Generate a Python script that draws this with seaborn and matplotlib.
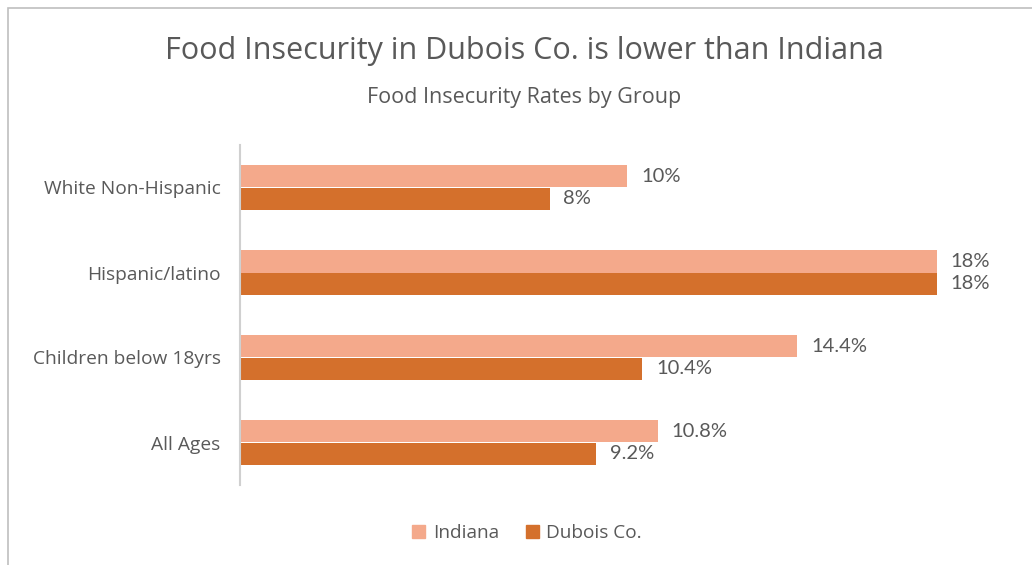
import matplotlib
matplotlib.use("Agg")
import matplotlib.pyplot as plt
from matplotlib.patches import Rectangle
import seaborn as sns
import pandas as pd

groups = ["White Non-Hispanic", "Hispanic/latino", "Children below 18yrs", "All Ages"]
indiana = [10, 18, 14.4, 10.8]
dubois = [8, 18, 10.4, 9.2]
series_names = ["Indiana", "Dubois Co."]
colors = ["#F4A98B", "#D4702C"]

df = pd.DataFrame({
    "group": groups * 2,
    "rate": indiana + dubois,
    "area": [series_names[0]] * len(groups) + [series_names[1]] * len(groups),
})

sns.set_theme(style="white")
plt.rcParams["font.family"] = ["Open Sans", "DejaVu Sans"]
text_color = "#595959"

fig = plt.figure(figsize=(10.32, 5.65), dpi=100)
ax = fig.add_axes([240 / 1032, 80 / 565, 774 / 1032, 340 / 565])

sns.barplot(data=df, y="group", x="rate", hue="area", order=groups,
            hue_order=series_names, palette=colors, orient="h",
            width=0.52, ax=ax, legend=False, saturation=1, linewidth=0)

for cont in ax.containers:
    vals = cont.datavalues
    ax.bar_label(cont, labels=[f"{v:g}%" for v in vals], padding=10,
                 fontsize=14.5, color=text_color, family=["Lato", "DejaVu Sans"])

ax.set_xlim(0, 20)
ax.set_ylim(3.5, -0.5)
ax.set_xlabel("")
ax.set_ylabel("")
ax.set_xticks([])
ax.tick_params(axis="y", length=0, pad=14, labelsize=13.8, labelcolor=text_color)
for s in ["top", "right", "bottom"]:
    ax.spines[s].set_visible(False)
ax.spines["left"].set_color("#D0D0D0")
ax.spines["left"].set_linewidth(1.5)

fig.text(524 / 1032, 1 - 51 / 565, "Food Insecurity in Dubois Co. is lower than Indiana",
         ha="center", va="center", fontsize=22, color=text_color)
fig.text(524 / 1032, 1 - 98 / 565, "Food Insecurity Rates by Group",
         ha="center", va="center", fontsize=15.5, color=text_color)

handles = [Rectangle((0, 0), 1, 1, color=c) for c in colors]
fig.legend(handles, series_names, loc="center", bbox_to_anchor=(527 / 1032, 1 - 533 / 565),
           ncol=2, frameon=False, fontsize=13.7, handlelength=0.7, handleheight=0.7,
           handletextpad=0.4, columnspacing=1.4, labelcolor=text_color)

fig.patches.append(Rectangle((8 / 1032, -0.1), 1.2, 1.1 - 8 / 565, transform=fig.transFigure,
                             fill=False, edgecolor="#BFBFBF", linewidth=1.2))

fig.savefig("out.png", dpi=100)
